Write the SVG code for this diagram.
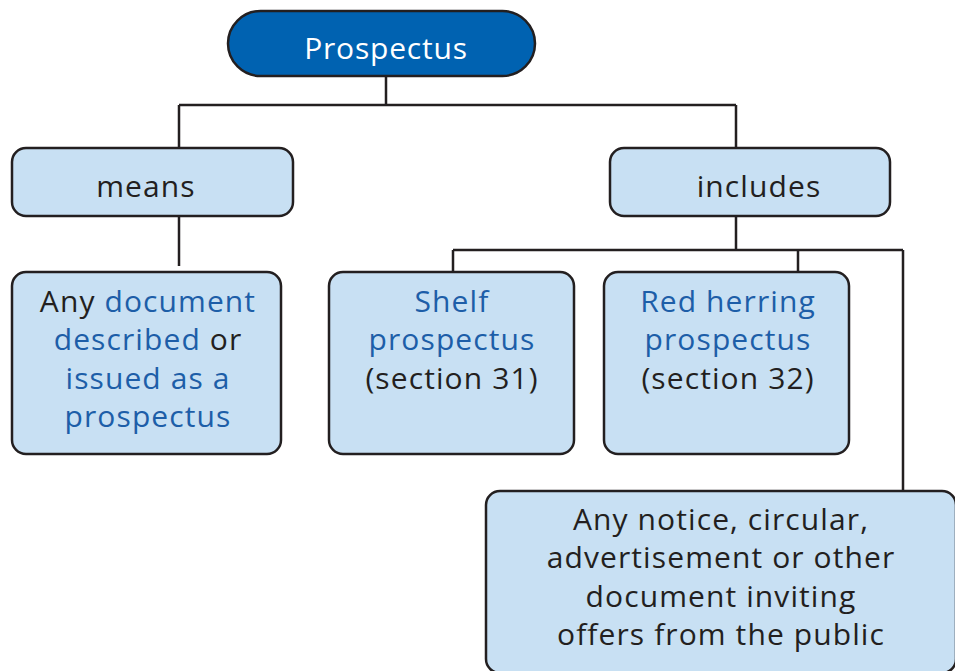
<svg xmlns="http://www.w3.org/2000/svg" width="955" height="671" viewBox="0 0 955 671">
  <style>
    .box { fill: #c8e0f3; stroke: #231f20; stroke-width: 2.5; }
    .top { fill: #0062b1; stroke: #231f20; stroke-width: 2.5; }
    .lnk { fill: none; stroke: #231f20; stroke-width: 2.5; }
    text { font-family: "Open Sans", "Liberation Sans", sans-serif; font-size: 30px; letter-spacing: 1.1px; text-anchor: middle; fill: #231f20; }
    .w { fill: #ffffff; letter-spacing: 0.8px; }
    .b { fill: #1d5ea8; }
  </style>
  <rect width="955" height="671" fill="#ffffff"/>
  <g id="connectors">
    <path class="lnk" d="M386 76 V105 M179 105 H736 M179 105 V148 M736 105 V148"/>
    <path class="lnk" d="M179 216 V266"/>
    <path class="lnk" d="M736 216 V250 M453 250 H903 M453 250 V272 M798 250 V272 M903 250 V491"/>
  </g>
  <g id="prospectus">
    <rect class="top" x="228" y="11" width="307" height="65" rx="32.5"/>
    <text class="w" x="386" y="59">Prospectus</text>
  </g>
  <g id="means">
    <rect class="box" x="12" y="148" width="281" height="68" rx="14"/>
    <text x="146" y="197">means</text>
  </g>
  <g id="includes">
    <rect class="box" x="610" y="148" width="280" height="68" rx="14"/>
    <text x="759" y="197">includes</text>
  </g>
  <g id="any-document">
    <rect class="box" x="12" y="272" width="269" height="182" rx="14"/>
    <text x="148" y="312">Any <tspan class="b">document</tspan></text>
    <text x="148" y="350"><tspan class="b">described</tspan> or</text>
    <text class="b" x="148" y="389">issued as a</text>
    <text class="b" x="148" y="427">prospectus</text>
  </g>
  <g id="shelf">
    <rect class="box" x="329" y="272" width="245" height="182" rx="14"/>
    <text class="b" x="452" y="312">Shelf</text>
    <text class="b" x="452" y="350">prospectus</text>
    <text x="452" y="389">(section 31)</text>
  </g>
  <g id="red-herring">
    <rect class="box" x="604" y="272" width="245" height="182" rx="14"/>
    <text class="b" x="728" y="312">Red herring</text>
    <text class="b" x="728" y="350">prospectus</text>
    <text x="728" y="389">(section 32)</text>
  </g>
  <g id="notice">
    <rect class="box" x="486" y="491" width="470" height="182" rx="14"/>
    <text x="721" y="530">Any notice, circular,</text>
    <text x="721" y="568">advertisement or other</text>
    <text x="721" y="607">document inviting</text>
    <text x="721" y="645">offers from the public</text>
  </g>
</svg>
